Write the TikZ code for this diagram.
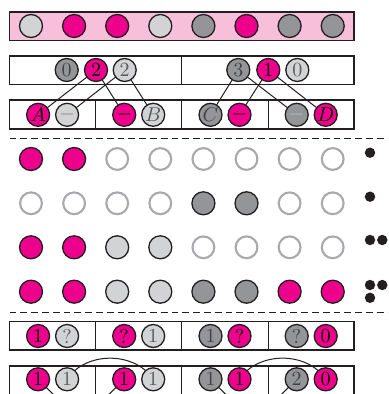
\documentclass[tikz,border=0pt]{standalone}
\usetikzlibrary{backgrounds}
\definecolor{mag}{HTML}{EC008C}
\definecolor{lgr}{HTML}{D1D3D4}
\definecolor{dgr}{HTML}{939598}
\definecolor{pnk}{HTML}{F7BFD9}
\definecolor{ink}{HTML}{231F20}
\definecolor{egr}{HTML}{A7A9AC}
\definecolor{ltxt}{HTML}{58595B}
\definecolor{mgray}{HTML}{808285}
\definecolor{pgray}{HTML}{BCBEC0}
\begin{document}
\begin{tikzpicture}[x=0.5pt,y=-0.5pt,
  ball/.style={circle,draw=ink,line width=0.65pt,minimum size=11.5pt,inner sep=0pt,font=\fontsize{10}{10}\selectfont},
  ballM/.style={ball,fill=mag,text=black},
  ballL/.style={ball,fill=lgr,text=ltxt},
  ballD/.style={ball,fill=dgr,text=ink!85},
  ballE/.style={ball,draw=egr,fill=white,line width=1.05pt,minimum size=10.9pt},
  boxline/.style={draw=ink,line width=0.65pt},
  link/.style={draw=ink,line width=0.5pt},
  bdot/.style={circle,fill=ink,minimum size=5.2pt,inner sep=0pt},
  sepline/.style={draw=ink,line width=0.6pt,dash pattern=on 3.4pt off 2pt}]
\useasboundingbox (0,0) rectangle (388,394);
\clip (0,0) rectangle (388,394);

% boxes
\draw[boxline,fill=pnk] (9.5,12) rectangle (354,40.7);
\draw[boxline] (9.5,56) rectangle (354,84.3) (181.7,56) -- (181.7,84.3);
\draw[boxline] (9.5,100) rectangle (354,129) (95.7,100) -- (95.7,129) (181.7,100) -- (181.7,129) (268.3,100) -- (268.3,129);
\draw[boxline] (9.5,321.7) rectangle (354,350) (95.7,321.7) -- (95.7,350) (181.7,321.7) -- (181.7,350) (268.3,321.7) -- (268.3,350);
\draw[boxline] (9.5,366) rectangle (354,420) (95.7,366) -- (95.7,420) (181.7,366) -- (181.7,420) (268.3,366) -- (268.3,420);

% dashed separators
\coordinate (s1a) at (9.5,138.3); \coordinate (s1b) at (388,138.3);
\coordinate (s2a) at (9.5,312.7); \coordinate (s2b) at (388,312.7);
\draw[sepline] (s1a) -- (s1b);
\draw[sepline] (s2a) -- (s2b);

% top row
\foreach \c [count=\i] in {L,M,M,L,D,M,D,D}
  \node[ball\c] (t\i) at ({31+43.1*(\i-1)},26) {};

% second box
\node[ballD] (b1) at (66.7,70) {0};
\node[ballM] (b2) at (96,70) {2};
\node[ballL] (b3) at (124.7,70) {2};
\node[ballD] (b4) at (238.3,70) {3};
\node[ballM] (b5) at (268.3,70) {1};
\node[ballL] (b6) at (297.3,70) {0};

% third box
\node[ballM] (c1) at (38.1,114.8) {$A$};
\node[ballL,text=mgray] (c2) at (67.1,114.8) {$-$};
\node[ballM] (c3) at (124.2,114.8) {$-$};
\node[ballL] (c4) at (153.2,114.8) {$B$};
\node[ballD] (c5) at (210.5,114.8) {$C$};
\node[ballM] (c6) at (239.5,114.8) {$-$};
\node[ballD,text=pgray] (c7) at (296.7,114.8) {$-$};
\node[ballM] (c8) at (325.7,114.8) {$D$};

\begin{scope}[on background layer]
  \draw[link] (b2.center) -- (c1.center);
  \draw[link] (b3.center) -- (c2.center);
  \draw[link] (b2.center) -- (c3.center);
  \draw[link] (b3.center) -- (c4.center);
  \draw[link] (b4.center) -- (c5.center);
  \draw[link] (b5.center) -- (c6.center);
  \draw[link] (b4.center) -- (c7.center);
  \draw[link] (b5.center) -- (c8.center);
\end{scope}

% rows of circles
\foreach \c [count=\i] in {M,M,E,E,E,E,E,E}
  \node[ball\c] (ra\i) at ({31+43.1*(\i-1)},159) {};
\foreach \c [count=\i] in {E,E,E,E,D,D,E,E}
  \node[ball\c] (rb\i) at ({31+43.1*(\i-1)},203.3) {};
\foreach \c [count=\i] in {M,M,L,L,E,E,E,E}
  \node[ball\c] (rc\i) at ({31+43.1*(\i-1)},247.3) {};
\foreach \c [count=\i] in {M,M,L,L,D,D,M,M}
  \node[ball\c] (rd\i) at ({31+43.1*(\i-1)},291.7) {};

% dots
\node[bdot] (da1) at (370,152.7) {};
\node[bdot] (db1) at (370,196.7) {};
\node[bdot] (dc1) at (370,240) {};
\node[bdot] (dc2) at (382.3,240) {};
\node[bdot] (dd1) at (370,285) {};
\node[bdot] (dd2) at (382.3,285) {};
\node[bdot] (dd3) at (370,297.8) {};

% fifth box
\node[ballM] (f1) at (38.1,336) {1};
\node[ballL] (f2) at (67.1,336) {?};
\node[ballM] (f3) at (124.2,336) {?};
\node[ballL] (f4) at (153.2,336) {1};
\node[ballD] (f5) at (210.5,336) {1};
\node[ballM] (f6) at (239.5,336) {?};
\node[ballD] (f7) at (296.7,336) {?};
\node[ballM] (f8) at (325.7,336) {0};

% sixth box
\node[ballM] (g1) at (38.1,379.3) {1};
\node[ballL] (g2) at (67.1,379.3) {1};
\node[ballM] (g3) at (124.2,379.3) {1};
\node[ballL] (g4) at (153.2,379.3) {1};
\node[ballD] (g5) at (210.5,379.3) {1};
\node[ballM] (g6) at (239.5,379.3) {1};
\node[ballD] (g7) at (296.7,379.3) {2};
\node[ballM] (g8) at (325.7,379.3) {0};

\coordinate (h1) at (81.15,422);
\coordinate (h2) at (253.6,422);
\begin{scope}[on background layer]
  \draw[link] (g2.center) to[out=57,in=123] (g4.center);
  \draw[link] (g6.center) to[out=57,in=123] (g8.center);
  \draw[link] (g1.center) -- (h1);
  \draw[link] (g3.center) -- (h1);
  \draw[link] (g5.center) -- (h2);
  \draw[link] (g7.center) -- (h2);
\end{scope}
\end{tikzpicture}
\end{document}
